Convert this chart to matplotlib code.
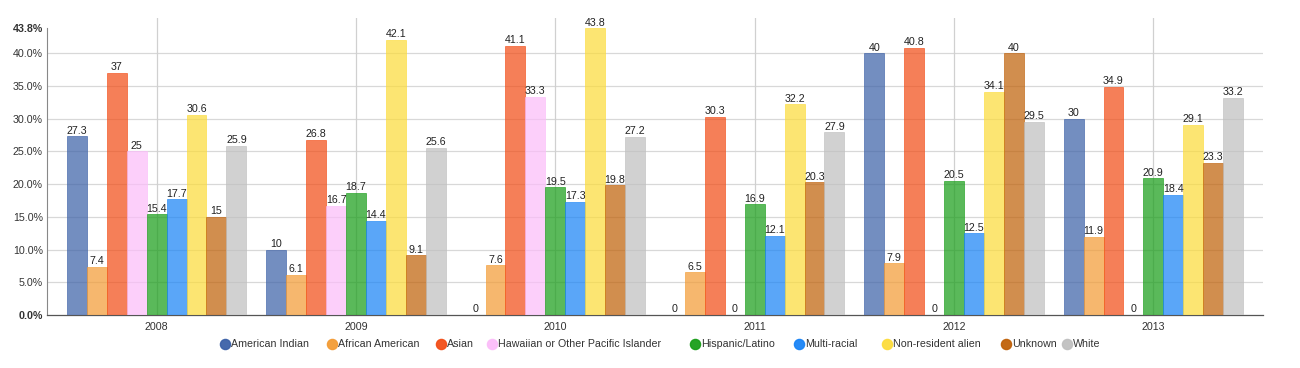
import matplotlib
matplotlib.use("Agg")
import matplotlib.pyplot as plt
from matplotlib.lines import Line2D
import numpy as np

years = ["2008", "2009", "2010", "2011", "2012", "2013"]
series_names = ["American Indian", "African American", "Asian",
                "Hawaiian or Other Pacific Islander", "Hispanic/Latino",
                "Multi-racial", "Non-resident alien", "Unknown", "White"]

american_indian = [27.3, 10, 0, 0, 40, 30]
african_american = [7.4, 6.1, 7.6, 6.5, 7.9, 11.9]
asian = [37, 26.8, 41.1, 30.3, 40.8, 34.9]
hawaiian = [25, 16.7, 33.3, 0, 0, 0]
hispanic = [15.4, 18.7, 19.5, 16.9, 20.5, 20.9]
multi_racial = [17.7, 14.4, 17.3, 12.1, 12.5, 18.4]
non_resident = [30.6, 42.1, 43.8, 32.2, 34.1, 29.1]
unknown = [15, 9.1, 19.8, 20.3, 40, 23.3]
white = [25.9, 25.6, 27.2, 27.9, 29.5, 33.2]

y_ticks = [0, 5, 10, 15, 20, 25, 30, 35, 40, 43.8]

all_series = [american_indian, african_american, asian, hawaiian, hispanic,
              multi_racial, non_resident, unknown, white]

base_colors = ["#3d62a8", "#f39c36", "#f24e18", "#fbbdf9", "#1a9e1a",
               "#1a84f6", "#fcdc3c", "#c0620a", "#c0c0c0"]

plt.rcParams['font.family'] = ['Liberation Sans', 'DejaVu Sans']

fig = plt.figure(figsize=(13, 3.68), dpi=100)
ax = fig.add_axes([47/1300, 1 - 315/368, (1263-47)/1300, (315-18)/368])

x = np.arange(len(years))
bw = 0.1
n = len(all_series)
for i, (vals, col) in enumerate(zip(all_series, base_colors)):
    pos = x + (i - (n - 1) / 2) * bw
    ax.bar(pos, vals, width=bw, color=col, alpha=0.72,
           edgecolor=col, linewidth=0.6, zorder=3)
    for p, v in zip(pos, vals):
        ax.annotate(f"{v:g}", (p, v), xytext=(0, 0.5), textcoords="offset points",
                    ha="center", va="bottom", fontsize=7.7, color="#222222",
                    zorder=5)

ax.set_xlim(-0.55, len(years) - 1 + 0.55)
ax.set_ylim(0, 45.4)

ax.set_yticks(y_ticks)
ax.set_yticklabels([f"{t:.1f}%" for t in y_ticks], fontsize=7.7, color="#333333")
for lbl, t in zip(ax.get_yticklabels(), y_ticks):
    if t in (0, 43.8):
        lbl.set_fontweight("bold")
ax.set_xticks(x)
ax.set_xticklabels(years, fontsize=7.7, color="#333333")
ax.tick_params(axis="y", length=0, pad=3)
ax.tick_params(axis="x", length=0, pad=5)

for t in y_ticks[1:-1]:
    ax.axhline(t, color="#d8d8d8", linewidth=0.9, zorder=1)
for xi in x:
    ax.axvline(xi, color="#d0d0d0", linewidth=0.9, zorder=1)

for s in ["top", "right"]:
    ax.spines[s].set_visible(False)
ax.spines["left"].set_bounds(0, 43.8)
ax.spines["left"].set_color("#888888")
ax.spines["left"].set_linewidth(0.8)
ax.spines["bottom"].set_color("#555555")
ax.spines["bottom"].set_linewidth(0.9)

# legend (manual placement to mimic original spacing)
legend_x = [225, 332, 441, 492, 695, 799, 887, 1006, 1067]
legend_y = 344
for name, col, lx in zip(series_names, base_colors, legend_x):
    fig.lines.append(Line2D(
        [lx / 1300], [1 - legend_y / 368], marker="o", markersize=7.3,
        markerfacecolor=col, markeredgecolor=col, linestyle="none",
        transform=fig.transFigure, alpha=0.95))
    fig.text((lx + 6) / 1300, 1 - legend_y / 368, name, fontsize=7.7,
             color="#333333", ha="left", va="center")

fig.savefig("out.png", dpi=100)
